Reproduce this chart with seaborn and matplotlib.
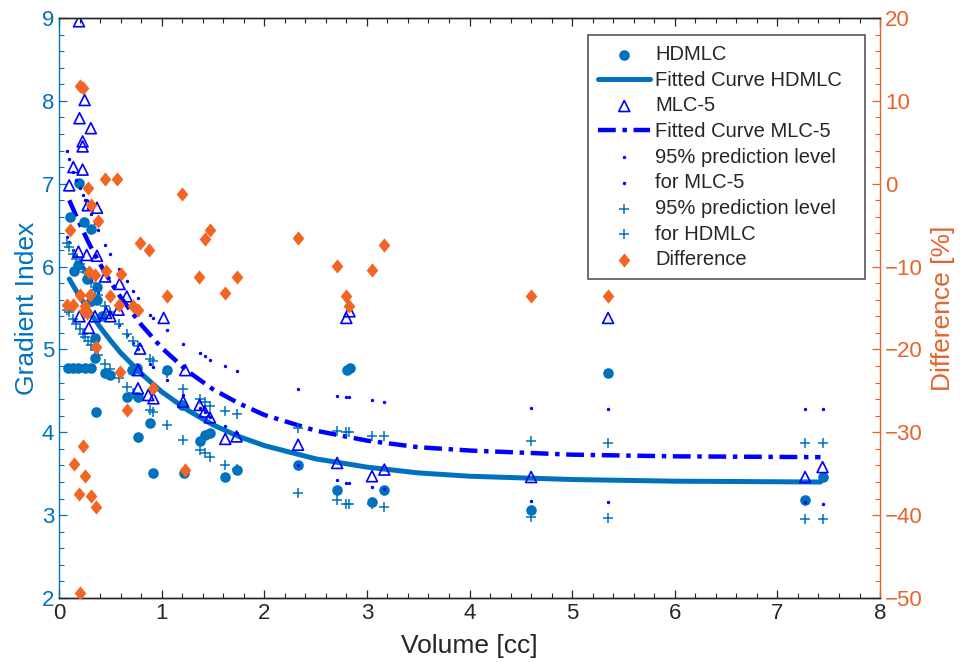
import matplotlib
matplotlib.use("Agg")
import matplotlib.pyplot as plt
from matplotlib.ticker import MultipleLocator
import seaborn as sns

# HDMLC measured gradient index vs target volume
hd_vol = [0.107, 0.195, 0.24, 0.31, 0.19, 0.15, 0.27, 0.37, 0.37, 0.31, 0.42, 0.35,
          0.09, 0.14, 0.19, 0.25, 0.31, 0.35, 0.45, 0.50, 0.71, 0.76, 1.05, 0.36,
          0.66, 0.77, 0.89, 0.77, 0.92, 1.20, 1.22, 1.37, 1.42, 1.47, 1.62, 1.73,
          2.33, 2.71, 2.81, 2.84, 3.05, 3.17, 4.60, 5.35, 7.27, 7.44]
hd_gi = [6.60, 7.01, 6.54, 6.45, 6.02, 5.95, 5.85, 5.75, 5.60, 5.58, 5.40, 5.14,
         4.78, 4.78, 4.77, 4.78, 4.77, 4.90, 4.71, 4.69, 4.75, 4.78, 4.75, 4.25,
         4.43, 4.43, 4.11, 3.94, 3.51, 4.33, 3.51, 3.89, 3.97, 3.99, 3.46, 3.55,
         3.61, 3.30, 4.75, 4.77, 3.16, 3.30, 3.06, 4.72, 3.18, 3.46]

# MLC-5 measured gradient index
mlc_vol = [0.195, 0.25, 0.20, 0.31, 0.23, 0.23, 0.14, 0.23, 0.10, 0.28, 0.37, 0.19,
           0.27, 0.37, 0.45, 0.59, 0.66, 0.20, 0.35, 0.29, 0.46, 0.50, 0.58, 0.79,
           1.02, 0.77, 0.87, 0.92, 0.77, 1.21, 1.23, 1.37, 1.42, 1.47, 1.62, 1.73,
           2.33, 2.71, 2.80, 2.83, 3.05, 3.17, 4.60, 5.35, 7.27, 7.44]
mlc_gi = [8.96, 8.01, 7.79, 7.67, 7.51, 7.45, 7.20, 7.17, 6.98, 6.74, 6.71, 6.18,
          6.14, 6.13, 5.88, 5.79, 5.64, 5.40, 5.40, 5.26, 5.44, 5.40, 5.48, 5.01,
          5.38, 4.75, 4.45, 4.41, 4.53, 4.37, 4.75, 4.33, 4.25, 4.18, 3.92, 3.95,
          3.85, 3.63, 5.38, 5.46, 3.47, 3.55, 3.46, 5.38, 3.46, 3.58]

# fitted curves
fit_vol = [0.1, 0.2, 0.3, 0.4, 0.5, 0.6, 0.8, 1.0, 1.25, 1.5, 1.75, 2.0,
           2.5, 3.0, 3.5, 4.0, 5.0, 6.0, 7.42]
fit_hd = [5.85, 5.64, 5.45, 5.27, 5.11, 4.96, 4.71, 4.49, 4.27, 4.09, 3.95, 3.84,
          3.68, 3.58, 3.51, 3.47, 3.43, 3.41, 3.40]
fit_mlc = [6.80, 6.52, 6.26, 6.03, 5.82, 5.63, 5.30, 5.02, 4.74, 4.52, 4.35, 4.21,
           4.02, 3.90, 3.82, 3.78, 3.73, 3.71, 3.70]

# 95% prediction levels
pred_vol = [0.08, 0.10, 0.14, 0.17, 0.20, 0.23, 0.25, 0.28, 0.31, 0.35, 0.38, 0.45,
            0.50, 0.58, 0.66, 0.72, 0.77, 0.89, 0.92, 1.05, 1.21, 1.37, 1.42, 1.47,
            1.62, 1.73, 2.33, 2.71, 2.80, 2.83, 3.05, 3.17, 4.60, 5.35, 7.27, 7.44]
mlc_hi = [7.39, 7.30, 7.14, 7.04, 6.95, 6.86, 6.80, 6.71, 6.63, 6.52, 6.44, 6.26,
          6.15, 5.97, 5.82, 5.71, 5.62, 5.42, 5.38, 5.24, 5.07, 4.96, 4.92, 4.87,
          4.80, 4.74, 4.52, 4.44, 4.42, 4.42, 4.39, 4.37, 4.29, 4.28, 4.28, 4.28]
mlc_lo = [6.36, 6.30, 6.20, 6.13, 6.06, 5.99, 5.95, 5.88, 5.82, 5.74, 5.68, 5.53,
          5.44, 5.29, 5.17, 5.08, 5.00, 4.83, 4.79, 4.63, 4.45, 4.29, 4.24, 4.19,
          4.07, 3.99, 3.60, 3.42, 3.39, 3.39, 3.34, 3.31, 3.17, 3.16, 3.16, 3.13]
hd_hi = [6.28, 6.24, 6.15, 6.09, 6.03, 5.97, 5.93, 5.86, 5.80, 5.72, 5.66, 5.53,
         5.45, 5.31, 5.19, 5.10, 5.04, 4.89, 4.86, 4.71, 4.52, 4.40, 4.36, 4.32,
         4.26, 4.22, 4.05, 4.01, 4.00, 4.00, 3.96, 3.96, 3.89, 3.87, 3.87, 3.87]
hd_lo = [5.48, 5.45, 5.37, 5.31, 5.25, 5.19, 5.15, 5.10, 5.05, 4.99, 4.93, 4.83,
         4.76, 4.65, 4.55, 4.47, 4.41, 4.27, 4.24, 4.09, 3.91, 3.79, 3.75, 3.70,
         3.61, 3.56, 3.27, 3.18, 3.14, 3.14, 3.13, 3.10, 2.98, 2.96, 2.95, 2.95]

# difference HDMLC vs MLC-5 [%]
diff_vol = [0.20, 0.23, 0.45, 0.57, 1.20, 0.28, 0.31, 0.107, 0.377, 1.47, 1.42, 0.79,
            0.88, 0.46, 0.60, 1.36, 1.73, 1.62, 1.05, 0.20, 0.30, 0.50, 0.29, 0.35,
            0.075, 0.14, 0.25, 0.24, 0.27, 0.58, 0.72, 0.77, 0.36, 0.59, 0.92, 0.66,
            0.23, 0.146, 0.25, 0.195, 0.31, 0.36, 1.23, 0.20, 2.33, 2.71, 3.17, 3.05,
            2.80, 2.83, 4.60, 5.35]
diff_pct = [11.8, 11.6, 0.6, 0.6, -1.3, -0.5, -2.6, -5.6, -4.5, -5.6, -6.7, -7.2,
            -8.0, -10.5, -10.9, -11.2, -11.2, -13.2, -13.5, -13.4, -13.4, -13.5, -10.6, -11.0,
            -14.6, -14.6, -14.8, -15.4, -15.6, -14.6, -14.8, -15.2, -19.7, -22.7, -24.7, -27.3,
            -31.7, -33.8, -35.3, -37.4, -37.7, -39.0, -34.6, -49.4, -6.5, -9.9, -7.4, -10.4,
            -13.6, -14.8, -13.6, -13.6]

blue = "#0072BD"
orange = "#E8622A"
dark = "#262626"

sns.set_style("ticks")
plt.rcParams["font.family"] = ["Liberation Sans", "DejaVu Sans"]
plt.rcParams["axes.linewidth"] = 1.0

fig = plt.figure(figsize=(9.64, 6.63), dpi=100)
ax = fig.add_axes([0.0612, 0.098, 0.8517, 0.8749])
ax2 = ax.twinx()

diamond = [(0, 1), (0.82, 0), (0, -1), (-0.82, 0), (0, 1)]

sns.scatterplot(x=hd_vol, y=hd_gi, ax=ax, marker="o", s=58, color=blue,
                edgecolor=blue, linewidth=0, label="HDMLC", legend=False, zorder=3)
sns.lineplot(x=fit_vol, y=fit_hd, ax=ax, color=blue, linewidth=3.6,
             estimator=None, sort=False, label="Fitted Curve HDMLC", legend=False, zorder=2)
sns.scatterplot(x=mlc_vol, y=mlc_gi, ax=ax, marker="^", s=62, color="blue",
                facecolors="none", edgecolor="blue", linewidth=1.2, label="MLC-5",
                legend=False, zorder=4)
sns.lineplot(x=fit_vol, y=fit_mlc, ax=ax, color="blue", linewidth=3.2,
             linestyle=(0, (4, 1.5, 1, 1.5)), estimator=None, sort=False,
             label="Fitted Curve MLC-5", legend=False, zorder=2)
sns.scatterplot(x=pred_vol, y=mlc_hi, ax=ax, marker="o", s=6, color="blue",
                edgecolor="blue", linewidth=0, label="95% prediction level",
                legend=False, zorder=3)
sns.scatterplot(x=pred_vol, y=mlc_lo, ax=ax, marker="o", s=6, color="blue",
                edgecolor="blue", linewidth=0, label="for MLC-5", legend=False, zorder=3)
sns.scatterplot(x=pred_vol, y=hd_hi, ax=ax, marker="+", s=62, color=blue,
                linewidth=1.1, label="95% prediction level", legend=False, zorder=3)
sns.scatterplot(x=pred_vol, y=hd_lo, ax=ax, marker="+", s=62, color=blue,
                linewidth=1.1, label="for HDMLC", legend=False, zorder=3)

sns.scatterplot(x=diff_vol, y=diff_pct, ax=ax2, marker=diamond, s=105, color="#F26522",
                edgecolor="#F26522", linewidth=0, label="Difference", legend=False, zorder=5)

ax.set_xlim(0, 8)
ax.set_ylim(2, 9)
ax2.set_ylim(-50, 20)

ax.xaxis.set_major_locator(MultipleLocator(1))
ax.xaxis.set_minor_locator(MultipleLocator(0.2))
ax.yaxis.set_major_locator(MultipleLocator(1))
ax.yaxis.set_minor_locator(MultipleLocator(0.2))
ax2.yaxis.set_major_locator(MultipleLocator(10))
ax2.yaxis.set_minor_locator(MultipleLocator(2))

ax.tick_params(axis="x", which="both", direction="in", top=True, colors=dark, labelsize=16)
ax.tick_params(axis="y", which="both", direction="in", right=False, colors=blue, labelsize=16)
ax2.tick_params(axis="y", which="both", direction="in", colors=orange, labelsize=16)
for a in (ax, ax2):
    a.tick_params(which="major", length=6, width=0.9)
    a.tick_params(which="minor", length=3.5, width=0.8)

ax.spines["left"].set_color(blue)
ax.spines["right"].set_visible(False)
ax.spines["top"].set_color(dark)
ax.spines["bottom"].set_color(dark)
ax2.spines["left"].set_visible(False)
ax2.spines["top"].set_color(dark)
ax2.spines["bottom"].set_color(dark)
ax2.spines["right"].set_color(orange)

ax.set_xlabel("Volume [cc]", fontsize=19, color=dark, labelpad=7)
ax.set_ylabel("Gradient Index", fontsize=19, color=blue, labelpad=2)
ax2.set_ylabel("Difference [%]", fontsize=19, color=orange, labelpad=6)

h1, l1 = ax.get_legend_handles_labels()
h2, l2 = ax2.get_legend_handles_labels()
leg = ax2.legend(h1 + h2, l1 + l2, loc="upper left",
                 bbox_to_anchor=(0.6443, 0.5, 0.3374, 0.4707), mode="expand",
                 borderaxespad=0, fontsize=14.5, frameon=True, fancybox=False,
                 edgecolor="#555555", framealpha=1, labelspacing=0.33,
                 handlelength=2.6, handletextpad=0.25, borderpad=0.5)
leg.get_frame().set_linewidth(1.2)

fig.savefig("out.png", dpi=100)
